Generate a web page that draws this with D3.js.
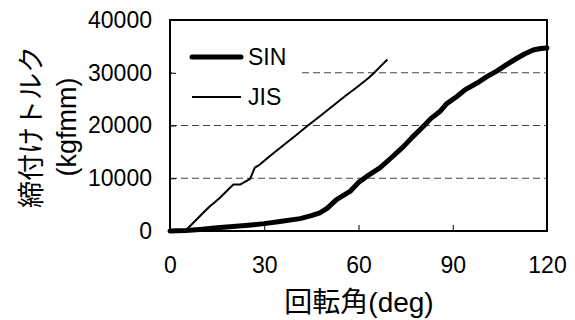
<!DOCTYPE html>
<html>
<head>
<meta charset="utf-8">
<script src="https://cdn.jsdelivr.net/npm/d3@7"></script>
<style>
  body { margin: 0; background: #fff; }
  svg text { font-family: "Liberation Sans", Arial, "Noto Sans CJK JP", sans-serif; fill: #000; }
</style>
</head>
<body>
<svg id="chart" width="575" height="320"></svg>
<script>
// SIN curve (deg, kgfmm)
var sin_deg = [0, 5, 9.5, 15, 20, 25, 30, 35, 41.4, 45, 47.7, 50, 53, 57.3, 60, 62.6, 66.8, 70, 74.3, 77, 80.6, 83, 85.9, 88, 91.3, 94, 97.6, 101, 104, 107, 110.3, 113, 115.6, 118, 120];
var sin_val = [0, 100, 300, 600, 850, 1100, 1400, 1800, 2350, 2900, 3450, 4300, 5950, 7500, 9200, 10350, 11950, 13650, 16000, 17700, 19800, 21300, 22650, 24100, 25500, 26800, 28000, 29300, 30300, 31500, 32700, 33600, 34300, 34600, 34700];
// JIS curve
var jis_deg = [4.8, 8, 10.5, 12.7, 13.8, 15.9, 19.1, 20.2, 22.3, 25.5, 27, 28.6, 32, 36, 40, 43.5, 48, 52, 56, 60, 63, 65, 67, 69.2];
var jis_val = [0, 1900, 3400, 4700, 5200, 6300, 8200, 8800, 8800, 9900, 12000, 12600, 14300, 16200, 18100, 19800, 21900, 23800, 25700, 27500, 28900, 30000, 31200, 32500];

var x_ticks = [0, 30, 60, 90, 120];
var y_ticks = [0, 10000, 20000, 30000, 40000];
var grid_vals = [10000, 20000, 30000];
var series_names = ['SIN', 'JIS'];

var svg = d3.select('#chart');
var m_left = 170, m_right = 547, m_top = 20, m_bottom = 231;

var x = d3.scaleLinear().domain([0, 120]).range([m_left, m_right]);
var y = d3.scaleLinear().domain([0, 40000]).range([m_bottom, m_top]);

// grid
svg.selectAll('line.grid').data(grid_vals).enter().append('line')
    .attr('class', 'grid')
    .attr('x1', m_left).attr('x2', m_right)
    .attr('y1', function(d) { return y(d); }).attr('y2', function(d) { return y(d); })
    .attr('stroke', '#444').attr('stroke-width', 1)
    .attr('stroke-dasharray', '7,4');

// legend background hides part of the grid
svg.append('rect').attr('x', m_left + 2).attr('y', 38).attr('width', 128).attr('height', 76).attr('fill', '#fff');

var zip = function(a, b) { return a.map(function(d, i) { return [d, b[i]]; }); };
var line = d3.line().x(function(d) { return x(d[0]); }).y(function(d) { return y(d[1]); });

svg.append('path').attr('d', line(zip(jis_deg, jis_val)))
    .attr('fill', 'none').attr('stroke', '#000').attr('stroke-width', 2).attr('stroke-linejoin', 'round');
svg.append('path').attr('d', line(zip(sin_deg, sin_val)))
    .attr('fill', 'none').attr('stroke', '#000').attr('stroke-width', 5)
    .attr('stroke-linejoin', 'round').attr('stroke-linecap', 'round');

// axes, ticks inside
var xAxis = d3.axisBottom(x).tickValues(x_ticks).tickSizeInner(-6).tickSizeOuter(0).tickPadding(26);
var yAxis = d3.axisLeft(y).tickValues(y_ticks).tickFormat(d3.format('d')).tickSizeInner(-6).tickSizeOuter(0).tickPadding(18);
var style_axis = function(g) {
    g.select('.domain').remove();
    g.selectAll('text').attr('font-size', 23).attr('font-family', null).attr('fill', null);
    g.selectAll('line').attr('stroke', '#000');
};
svg.append('g').attr('transform', 'translate(0,' + m_bottom + ')').call(xAxis).call(style_axis);
svg.append('g').attr('transform', 'translate(' + m_left + ',0)').call(yAxis).call(style_axis);

// frame
svg.append('rect').attr('x', m_left).attr('y', m_top).attr('width', m_right - m_left).attr('height', m_bottom - m_top)
    .attr('fill', 'none').attr('stroke', '#000').attr('stroke-width', 2);

// legend
var leg = svg.append('g');
[[57, 5], [97, 2]].forEach(function(p, i) {
    leg.append('line').attr('x1', 192).attr('x2', 241).attr('y1', p[0]).attr('y2', p[0])
        .attr('stroke', '#000').attr('stroke-width', p[1]).attr('stroke-linecap', i == 0 ? 'round' : 'butt');
    leg.append('text').attr('x', 248).attr('y', p[0] + 8).attr('font-size', 23).text(series_names[i]);
});

// titles
svg.append('text').attr('x', 359).attr('y', 312).attr('text-anchor', 'middle').attr('font-size', 28).text('回転角(deg)');
svg.append('text').attr('transform', 'translate(41,127) rotate(-90)').attr('text-anchor', 'middle').attr('font-size', 27).text('締付けトルク');
svg.append('text').attr('transform', 'translate(76,127) rotate(-90)').attr('text-anchor', 'middle').attr('font-size', 27).text('(kgfmm)');
</script>
</body>
</html>
